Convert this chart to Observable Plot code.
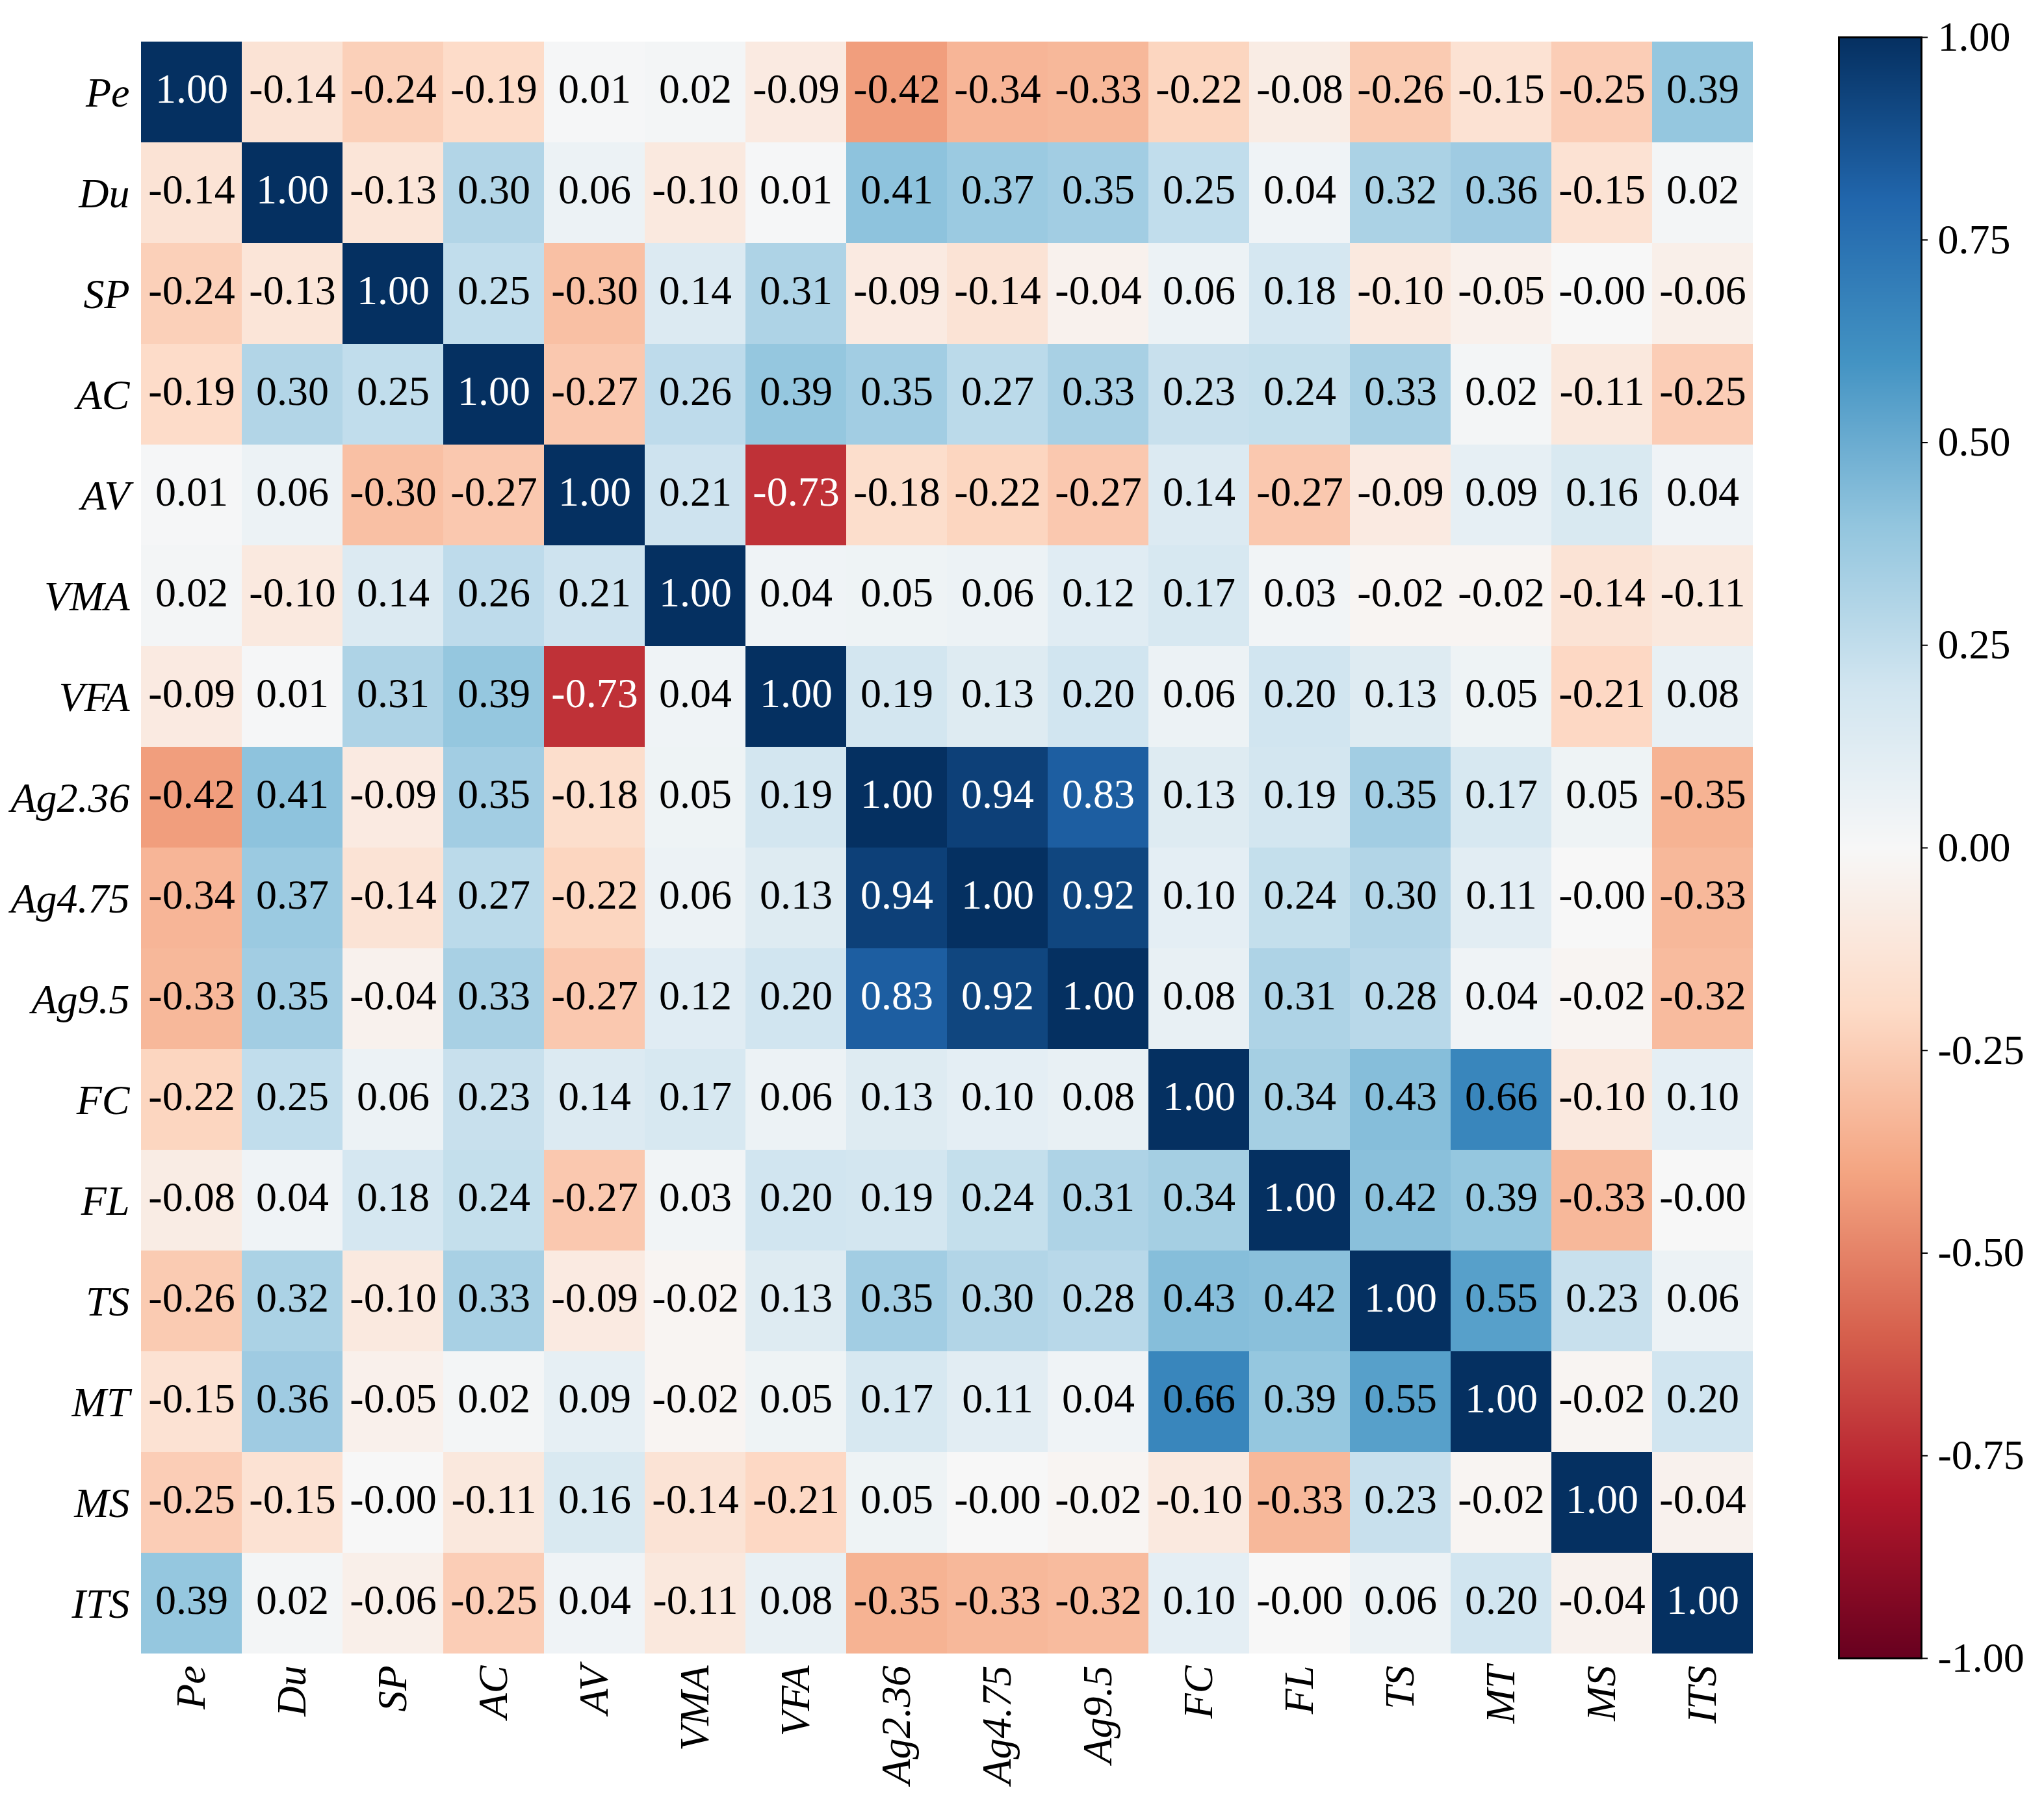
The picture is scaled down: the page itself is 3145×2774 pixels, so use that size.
<!DOCTYPE html>
<html>
<head>
<meta charset="utf-8">
<script src="https://cdn.jsdelivr.net/npm/d3@7"></script>
<script src="https://cdn.jsdelivr.net/npm/@observablehq/plot@0.6"></script>
<style>
  body { margin: 0; background: #fff; }
  #chart { position: relative; width: 3145px; height: 2774px; font-family: "Liberation Serif", "Times New Roman", serif; }
  #chart svg { position: absolute; top: 0; overflow: visible; }
  #heat g[aria-label="x-axis tick label"] text,
  #heat g[aria-label="y-axis tick label"] text { font-style: italic; }
</style>
</head>
<body>
<div id="chart"><div id="heat"></div><div id="bar"></div></div>
<script>
// Variable names (rows top to bottom, columns left to right)
const variables = ["Pe", "Du", "SP", "AC", "AV", "VMA", "VFA", "Ag2.36", "Ag4.75", "Ag9.5", "FC", "FL", "TS", "MT", "MS", "ITS"];

// Pearson correlation coefficients, one array per row
const rowPe    = [1.00, -0.14, -0.24, -0.19, 0.01, 0.02, -0.09, -0.42, -0.34, -0.33, -0.22, -0.08, -0.26, -0.15, -0.25, 0.39];
const rowDu    = [-0.14, 1.00, -0.13, 0.30, 0.06, -0.10, 0.01, 0.41, 0.37, 0.35, 0.25, 0.04, 0.32, 0.36, -0.15, 0.02];
const rowSP    = [-0.24, -0.13, 1.00, 0.25, -0.30, 0.14, 0.31, -0.09, -0.14, -0.04, 0.06, 0.18, -0.10, -0.05, -0.00, -0.06];
const rowAC    = [-0.19, 0.30, 0.25, 1.00, -0.27, 0.26, 0.39, 0.35, 0.27, 0.33, 0.23, 0.24, 0.33, 0.02, -0.11, -0.25];
const rowAV    = [0.01, 0.06, -0.30, -0.27, 1.00, 0.21, -0.73, -0.18, -0.22, -0.27, 0.14, -0.27, -0.09, 0.09, 0.16, 0.04];
const rowVMA   = [0.02, -0.10, 0.14, 0.26, 0.21, 1.00, 0.04, 0.05, 0.06, 0.12, 0.17, 0.03, -0.02, -0.02, -0.14, -0.11];
const rowVFA   = [-0.09, 0.01, 0.31, 0.39, -0.73, 0.04, 1.00, 0.19, 0.13, 0.20, 0.06, 0.20, 0.13, 0.05, -0.21, 0.08];
const rowAg236 = [-0.42, 0.41, -0.09, 0.35, -0.18, 0.05, 0.19, 1.00, 0.94, 0.83, 0.13, 0.19, 0.35, 0.17, 0.05, -0.35];
const rowAg475 = [-0.34, 0.37, -0.14, 0.27, -0.22, 0.06, 0.13, 0.94, 1.00, 0.92, 0.10, 0.24, 0.30, 0.11, -0.00, -0.33];
const rowAg95  = [-0.33, 0.35, -0.04, 0.33, -0.27, 0.12, 0.20, 0.83, 0.92, 1.00, 0.08, 0.31, 0.28, 0.04, -0.02, -0.32];
const rowFC    = [-0.22, 0.25, 0.06, 0.23, 0.14, 0.17, 0.06, 0.13, 0.10, 0.08, 1.00, 0.34, 0.43, 0.66, -0.10, 0.10];
const rowFL    = [-0.08, 0.04, 0.18, 0.24, -0.27, 0.03, 0.20, 0.19, 0.24, 0.31, 0.34, 1.00, 0.42, 0.39, -0.33, -0.00];
const rowTS    = [-0.26, 0.32, -0.10, 0.33, -0.09, -0.02, 0.13, 0.35, 0.30, 0.28, 0.43, 0.42, 1.00, 0.55, 0.23, 0.06];
const rowMT    = [-0.15, 0.36, -0.05, 0.02, 0.09, -0.02, 0.05, 0.17, 0.11, 0.04, 0.66, 0.39, 0.55, 1.00, -0.02, 0.20];
const rowMS    = [-0.25, -0.15, -0.00, -0.11, 0.16, -0.14, -0.21, 0.05, -0.00, -0.02, -0.10, -0.33, 0.23, -0.02, 1.00, -0.04];
const rowITS   = [0.39, 0.02, -0.06, -0.25, 0.04, -0.11, 0.08, -0.35, -0.33, -0.32, 0.10, -0.00, 0.06, 0.20, -0.04, 1.00];

const matrixRows = [rowPe, rowDu, rowSP, rowAC, rowAV, rowVMA, rowVFA, rowAg236, rowAg475, rowAg95, rowFC, rowFL, rowTS, rowMT, rowMS, rowITS];

// Colour bar tick values
const colorbarTicks = [-1, -0.75, -0.5, -0.25, 0, 0.25, 0.5, 0.75, 1];

// Diverging red-blue palette, piecewise linear from -1 to 1
const rdbuStops = ["#67001f", "#b2182b", "#d6604d", "#f4a582", "#fddbc7", "#f7f7f7", "#d1e5f0", "#92c5de", "#4393c3", "#2166ac", "#053061"];
const colorOptions = {
  type: "linear",
  domain: rdbuStops.map((_, i) => -1 + i * 0.2),
  range: rdbuStops,
  interpolate: "rgb",
  clamp: true
};

// Long-format table for the cell and text marks
const cells = variables.flatMap((row, i) =>
  matrixRows[i].map((v, j) => ({row, col: variables[j], v}))
);

// Two-decimal label that keeps the sign of negative zero
const fmt = (v) => ((v < 0 || Object.is(v, -0)) ? "-" : "") + Math.abs(v).toFixed(2);

const FONT = "Liberation Serif, Times New Roman, serif";
const FS = 64;

const heat = Plot.plot({
  width: 2703,
  height: 2774,
  marginLeft: 210,
  marginRight: 0,
  marginTop: 57,
  marginBottom: 224,
  style: {fontFamily: FONT, fontSize: FS + "px", background: "transparent", color: "black"},
  x: {domain: variables, padding: 0},
  y: {domain: variables, padding: 0},
  color: colorOptions,
  marks: [
    Plot.cell(cells, {x: "col", y: "row", fill: "v", inset: 0}),
    Plot.text(cells, {
      x: "col",
      y: "row",
      text: (d) => fmt(d.v),
      fill: (d) => Math.abs(d.v) > 0.7 ? "white" : "black",
      fontSize: FS,
      fontFamily: FONT,
      dy: -4
    }),
    Plot.axisX({anchor: "bottom", tickRotate: -90, tickSize: 0, tickPadding: 12, fontSize: FS, fontFamily: FONT, fontStyle: "italic", label: null}),
    Plot.axisY({anchor: "left", tickSize: 0, tickPadding: 11, fontSize: FS, fontFamily: FONT, fontStyle: "italic", label: null, dy: 2})
  ]
});
heat.style.left = "0px";
document.getElementById("heat").append(heat);

const bar = Plot.plot({
  width: 365,
  height: 2774,
  marginLeft: 49,
  marginRight: 189,
  marginTop: 57,
  marginBottom: 223,
  style: {fontFamily: FONT, fontSize: FS + "px", background: "transparent", color: "black"},
  x: {domain: [0, 1], axis: null},
  y: {domain: [-1, 1]},
  color: colorOptions,
  marks: [
    Plot.raster({fill: (x, y) => y, x1: 0, x2: 1, y1: -1, y2: 1, pixelSize: 1}),
    Plot.frame({stroke: "black", strokeWidth: 3}),
    Plot.axisY({
      anchor: "right",
      ticks: colorbarTicks,
      tickFormat: (d) => d.toFixed(2),
      tickSize: 9,
      tickPadding: 16,
      strokeWidth: 2,
      fontSize: FS,
      fontFamily: FONT,
      label: null
    })
  ]
});
bar.style.left = "2780px";
document.getElementById("bar").append(bar);
</script>
</body>
</html>
